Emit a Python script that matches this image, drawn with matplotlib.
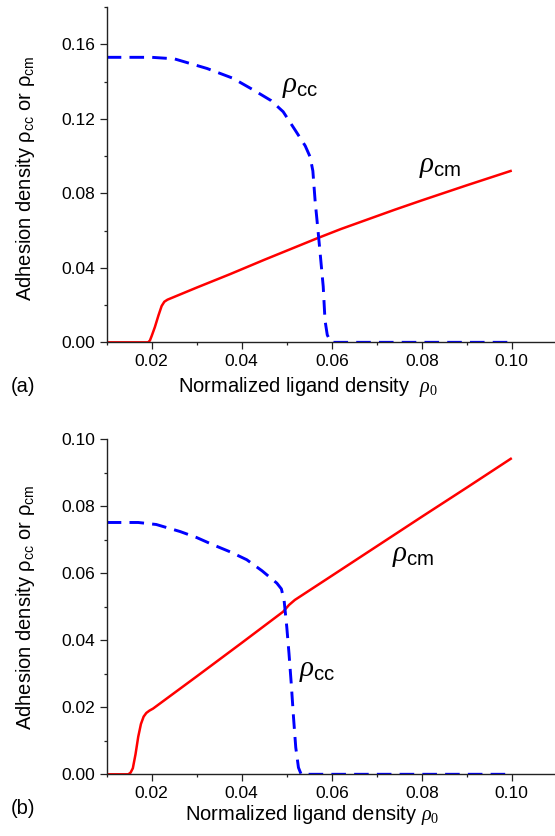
import numpy as np
import matplotlib
matplotlib.use("Agg")
import matplotlib.pyplot as plt
from matplotlib.ticker import MultipleLocator, FormatStrFormatter

plt.rcParams['font.family'] = 'Liberation Sans'
plt.rcParams['mathtext.fontset'] = 'custom'
plt.rcParams['mathtext.rm'] = 'Liberation Sans'
plt.rcParams['mathtext.it'] = 'Liberation Serif:italic'
plt.rcParams['mathtext.sf'] = 'Liberation Serif'

# (a) adhesion densities vs normalized ligand density
rho0_cm_a = [0.010, 0.0192, 0.0196, 0.0200, 0.0207, 0.0215, 0.0222, 0.0228, 0.0235,
             0.030, 0.0374, 0.045, 0.0567, 0.062, 0.068, 0.074, 0.080, 0.090, 0.100]
rho_cm_a = [0.0, 0.0, 0.001, 0.0035, 0.0082, 0.0145, 0.0195, 0.0218, 0.0229,
            0.0294, 0.0366, 0.0443, 0.0558, 0.0608, 0.0660, 0.0712, 0.0762, 0.0843, 0.0922]

rho0_cc_a = [0.010, 0.020, 0.025, 0.0323, 0.0380, 0.0425, 0.0465, 0.0492, 0.0519,
             0.0541, 0.0552, 0.0558, 0.0563, 0.0570, 0.0575, 0.0581, 0.0585, 0.0590,
             0.0596, 0.0600, 0.100]
rho_cc_a = [0.153, 0.153, 0.1522, 0.147, 0.1418, 0.1356, 0.1298, 0.1238, 0.1138,
            0.1055, 0.0995, 0.0920, 0.076, 0.0586, 0.0457, 0.030, 0.0118, 0.004,
            0.001, 0.0, 0.0]

# (b)
rho0_cm_b = [0.010, 0.0148, 0.0153, 0.0158, 0.0164, 0.0170, 0.0176, 0.0182, 0.0188,
             0.0195, 0.0203, 0.030, 0.040, 0.0492, 0.0505, 0.0518, 0.060, 0.070,
             0.080, 0.090, 0.100]
rho_cm_b = [0.0, 0.0, 0.0005, 0.0018, 0.0060, 0.0112, 0.0150, 0.0172, 0.0183,
            0.0190, 0.0196, 0.0292, 0.0392, 0.0485, 0.0505, 0.0520, 0.0592, 0.0680,
            0.0768, 0.0855, 0.0943]

rho0_cc_b = [0.010, 0.017, 0.021, 0.0263, 0.030, 0.0337, 0.0375, 0.0411, 0.0445,
             0.0478, 0.0488, 0.0494, 0.0500, 0.0505, 0.0510, 0.0515, 0.0520, 0.0526,
             0.0532, 0.100]
rho_cc_b = [0.0751, 0.0751, 0.0745, 0.0724, 0.0706, 0.0684, 0.0663, 0.0640, 0.0607,
            0.0570, 0.0553, 0.0520, 0.0440, 0.0360, 0.0270, 0.0170, 0.0080, 0.0020,
            0.0, 0.0]

fig = plt.figure(figsize=(5.55, 8.36), dpi=100)
ax_a = fig.add_axes([0.1923, 0.5905, 0.8077, 0.4011])
ax_b = fig.add_axes([0.1923, 0.0738, 0.8077, 0.4011])

dash = (0, (5.0, 2.8))

panels = [
    (ax_a, rho0_cm_a, rho_cm_a, rho0_cc_a, rho_cc_a, 0.18, 0.04, 0.02,
     [(0.0490, 0.1376, r'$\rho_{\mathrm{cc}}$'), (0.0794, 0.0949, r'$\rho_{\mathrm{cm}}$')],
     r'Normalized ligand density  $\rho_{\mathsf{0}}$', (0.448, -0.133), 0.488, '(a)', 0.538),
    (ax_b, rho0_cm_b, rho_cm_b, rho0_cc_b, rho_cc_b, 0.10, 0.02, 0.01,
     [(0.0528, 0.0310, r'$\rho_{\mathrm{cc}}$'), (0.0734, 0.0653, r'$\rho_{\mathrm{cm}}$')],
     r'Normalized ligand density $\rho_{\mathsf{0}}$', (0.459, -0.121), 0.497, '(b)', 0.0323),
]

for (ax, xcm, ycm, xcc, ycc, ytop, ymaj, ymin, notes,
     xlab, xlab_pos, ylab_y, tag, tag_y) in panels:
    ax.plot(xcm, ycm, color='#ff0000', lw=1.8, solid_capstyle='butt')
    ax.plot(xcc, ycc, color='#0000ff', lw=2.1, linestyle=dash)

    ax.set_xlim(0.01, 0.1096)
    ax.set_ylim(0, ytop)
    ax.xaxis.set_major_locator(MultipleLocator(0.02))
    ax.xaxis.set_minor_locator(MultipleLocator(0.01))
    ax.yaxis.set_major_locator(MultipleLocator(ymaj))
    ax.yaxis.set_minor_locator(MultipleLocator(ymin))
    ax.xaxis.set_major_formatter(FormatStrFormatter('%.2f'))
    ax.yaxis.set_major_formatter(FormatStrFormatter('%.2f'))

    for side in ('top', 'right'):
        ax.spines[side].set_visible(False)
    for side in ('left', 'bottom'):
        ax.spines[side].set_linewidth(1.0)
        ax.spines[side].set_color('#222222')
    ax.tick_params(which='major', direction='out', length=5, width=0.9,
                   color='#222222', labelsize=12.5)
    ax.tick_params(which='minor', direction='out', length=2.5, width=0.9,
                   color='#222222')
    ax.tick_params(axis='y', which='major', pad=3.4)
    ax.tick_params(axis='x', which='major', pad=3.5)

    for x, y, s in notes:
        ax.text(x, y, s, fontsize=21, ha='left', va='center')

    ax.set_xlabel(xlab, fontsize=14.5)
    ax.xaxis.label.set_va('center')
    ax.xaxis.set_label_coords(*xlab_pos)
    ax.set_ylabel(r'Adhesion density $\mathrm{\rho}_{\mathrm{cc}}$ or '
                  r'$\mathrm{\rho}_{\mathrm{cm}}$', fontsize=14.5)
    ax.yaxis.label.set_va('center')
    ax.yaxis.set_label_coords(-0.181, ylab_y)

    fig.text(0.041, tag_y, tag, fontsize=14.5, ha='center', va='center')

fig.savefig('out.png', dpi=100)
